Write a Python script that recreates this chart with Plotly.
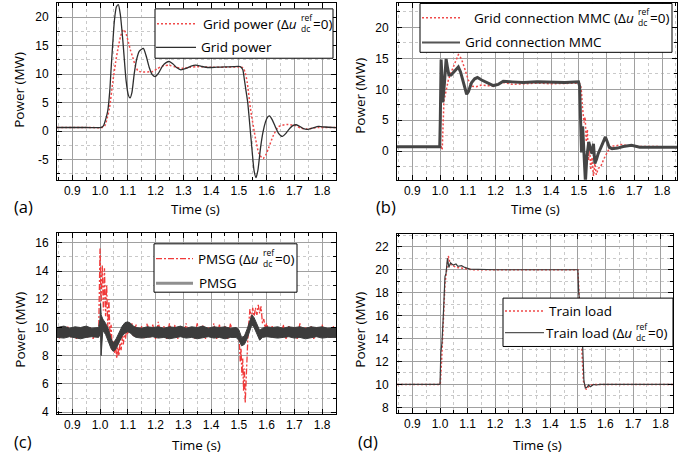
import plotly.graph_objects as go

W, H = 697, 466

# ---------------- (a) grid power ----------------
grid_t = [0.845, 0.95, 1.005, 1.012, 1.02, 1.028, 1.035, 1.04, 1.046, 1.052, 1.059, 1.066,
          1.073, 1.082, 1.094, 1.102, 1.108, 1.115, 1.123, 1.132, 1.141, 1.156, 1.166, 1.177,
          1.188, 1.199, 1.21, 1.225, 1.238, 1.249, 1.262, 1.277, 1.291, 1.31, 1.328, 1.345,
          1.365, 1.39, 1.42, 1.45, 1.48, 1.505, 1.514, 1.52, 1.526, 1.532, 1.54, 1.548, 1.555,
          1.562, 1.569, 1.578, 1.587, 1.596, 1.603, 1.61, 1.62, 1.631, 1.643, 1.657, 1.668,
          1.679, 1.693, 1.707, 1.72, 1.733, 1.748, 1.765, 1.787, 1.81, 1.85]
grid_p = [0.62, 0.62, 0.65, 0.9, 2.0, 3.6, 7.0, 11.0, 15.5, 19.5, 21.8, 22.2,
          20.5, 16.0, 8.8, 6.3, 5.8, 6.8, 10.0, 12.6, 14.0, 14.5, 13.2, 11.2,
          9.9, 9.55, 10.1, 11.4, 12.0, 12.2, 11.8, 11.1, 10.75, 11.0, 11.4, 11.55,
          11.35, 11.15, 11.2, 11.25, 11.3, 11.3, 10.8, 9.0, 7.0, 5.0, 0.8, -3.6, -7.0,
          -8.2, -6.8, -3.0, -0.2, 1.6, 2.4, 2.65, 2.0, 0.8, -0.4, -0.95, -0.5,
          0.2, 0.9, 1.1, 0.8, 0.4, 0.3, 0.5, 0.8, 0.7, 0.6]

grid0_t = [0.845, 0.95, 1.01, 1.018, 1.026, 1.034, 1.046, 1.056, 1.064, 1.074, 1.084, 1.092,
           1.1, 1.109, 1.118, 1.127, 1.136, 1.145, 1.19, 1.205, 1.225, 1.25, 1.275, 1.3,
           1.325, 1.35, 1.4, 1.45, 1.5, 1.515, 1.522, 1.53, 1.542, 1.56, 1.572, 1.587,
           1.597, 1.607, 1.625, 1.643, 1.673, 1.703, 1.725, 1.745, 1.765, 1.785, 1.85]
grid0_p = [0.62, 0.62, 0.65, 1.0, 2.3, 4.0, 8.6, 12.0, 14.3, 16.6, 17.8, 17.3,
           16.0, 14.3, 12.9, 11.5, 10.6, 10.4, 10.45, 10.9, 11.4, 11.55, 11.2, 11.0,
           11.2, 11.3, 11.2, 11.2, 11.25, 11.1, 10.4, 8.6, 3.9, -1.3, -3.9, -4.85,
           -4.2, -3.0, -0.7, 0.76, 1.16, 0.95, 0.5, 0.35, 0.5, 0.6, 0.6]

# ---------------- (b) grid connection MMC ----------------
mmc_t = [0.845, 0.999, 1.001, 1.004, 1.007, 1.01, 1.016, 1.022, 1.027, 1.032, 1.04, 1.05,
         1.058, 1.066, 1.074, 1.084, 1.091, 1.096, 1.102, 1.114, 1.125, 1.135, 1.15, 1.17,
         1.192, 1.21, 1.228, 1.26, 1.3, 1.35, 1.4, 1.45, 1.499, 1.503, 1.507, 1.51, 1.514,
         1.518, 1.524, 1.529, 1.532, 1.536, 1.542, 1.548, 1.553, 1.558, 1.564, 1.57, 1.58,
         1.589, 1.596, 1.603, 1.61, 1.62, 1.64, 1.66, 1.69, 1.72, 1.76, 1.854]
mmc_p = [0.7, 0.7, 5.0, 14.8, 12.0, 7.9, 11.0, 14.9, 13.5, 12.3, 12.3, 12.8,
         13.3, 13.6, 12.8, 11.1, 9.8, 9.2, 9.6, 11.1, 11.7, 11.9, 11.5, 11.1,
         10.6, 10.8, 11.3, 11.2, 11.1, 11.2, 11.15, 11.1, 11.2, 10.5, 4.4, -0.2, 4.0,
         1.0, -5.0, -1.0, 0.4, 1.5, 0.4, -0.4, 1.2, -2.0, -1.3, -0.4, 0.6,
         1.5, 2.3, 1.5, 0.6, 0.4, 0.5, 0.75, 0.95, 0.65, 0.65, 0.65]

mmc0_t = [0.845, 1.004, 1.008, 1.011, 1.014, 1.018, 1.024, 1.03, 1.038, 1.048, 1.056, 1.066,
          1.072, 1.078, 1.09, 1.102, 1.114, 1.13, 1.15, 1.17, 1.19, 1.21, 1.23, 1.26,
          1.3, 1.35, 1.4, 1.45, 1.5, 1.506, 1.51, 1.513, 1.519, 1.523, 1.527, 1.531,
          1.535, 1.539, 1.543, 1.548, 1.553, 1.558, 1.563, 1.57, 1.579, 1.591, 1.603,
          1.615, 1.633, 1.657, 1.68, 1.854]
mmc0_p = [0.7, 0.7, 0.2, 6.5, 8.0, 8.9, 10.4, 11.5, 12.5, 13.7, 14.6, 15.6,
          15.3, 14.8, 13.2, 11.5, 10.5, 10.4, 10.7, 10.6, 10.5, 10.9, 11.1, 10.8,
          10.9, 11.0, 10.9, 10.9, 11.0, 10.8, 9.5, 7.3, 4.6, 5.5, 1.5, 3.5,
          -1.5, 1.0, -3.0, -1.0, -4.0, -2.0, -3.8, -2.8, -2.5, -1.2, -0.2,
          0.85, 0.85, 1.1, 0.8, 0.7]

# ---------------- (c) PMSG ----------------
# envelope of the switching ripple band
pmsg_t = [0.845, 0.87, 0.89, 0.91, 0.93, 0.95, 0.97, 0.995,
          1.0, 1.002, 1.004, 1.007, 1.01,
          1.02, 1.03, 1.04, 1.048, 1.058, 1.07, 1.08, 1.09, 1.1, 1.11, 1.12, 1.13,
          1.15, 1.17, 1.19, 1.21, 1.23, 1.25, 1.27, 1.29, 1.31, 1.33, 1.35, 1.37, 1.39,
          1.41, 1.43, 1.45, 1.47, 1.49,
          1.5, 1.51, 1.52, 1.53, 1.54, 1.547, 1.555, 1.565, 1.575, 1.585,
          1.6, 1.62, 1.64, 1.66, 1.68, 1.7, 1.72, 1.74, 1.76, 1.78, 1.8, 1.82, 1.85]
pmsg_hi = [10.0, 10.1, 9.95, 10.05, 10.0, 10.1, 9.95, 10.0,
           10.6, 11.7, 10.9, 10.7, 10.6,
           10.3, 9.9, 9.2, 8.9, 9.2, 9.7, 10.1, 10.35, 10.4, 10.3, 10.1, 10.0,
           9.95, 10.05, 10.0, 10.05, 9.95, 10.05, 10.0, 10.1, 9.95, 10.05, 10.0, 10.1, 9.95,
           10.05, 10.0, 10.05, 9.95, 10.0,
           9.85, 9.3, 9.4, 9.9, 10.6, 10.9, 10.7, 10.2, 9.8, 9.95,
           10.05, 10.0, 10.05, 9.95, 10.05, 10.0, 10.05, 9.95, 10.05, 10.0, 10.05, 9.95, 10.0]
pmsg_lo = [9.3, 9.25, 9.35, 9.3, 9.2, 9.3, 9.35, 9.3,
           9.5, 9.6, 8.0, 9.5, 9.8,
           9.5, 9.0, 8.5, 8.3, 8.5, 9.0, 9.4, 9.6, 9.7, 9.6, 9.4, 9.3,
           9.25, 9.3, 9.35, 9.25, 9.3, 9.2, 9.3, 9.35, 9.25, 9.3, 9.2, 9.3, 9.35,
           9.25, 9.3, 9.2, 9.3, 9.3,
           9.1, 8.7, 8.8, 9.2, 9.9, 10.2, 10.0, 9.5, 9.1, 9.3,
           9.35, 9.3, 9.25, 9.3, 9.35, 9.25, 9.3, 9.2, 9.3, 9.35, 9.25, 9.3, 9.3]

pmsg0_t = [0.845, 0.855, 0.865, 0.875, 0.885, 0.895, 0.905, 0.915, 0.925, 0.935, 0.945,
           0.955, 0.965, 0.975, 0.985, 0.995,
           1.0, 1.004, 1.008, 1.012, 1.016, 1.02, 1.024, 1.028, 1.032, 1.036, 1.04, 1.044,
           1.048, 1.052, 1.056, 1.06, 1.064, 1.068, 1.072, 1.076, 1.08, 1.084, 1.088, 1.092,
           1.096, 1.1, 1.105, 1.11, 1.115, 1.12,
           1.13, 1.14, 1.15, 1.16, 1.17, 1.18, 1.19, 1.2, 1.21, 1.22, 1.23, 1.24, 1.25, 1.26,
           1.27, 1.28, 1.29, 1.3, 1.31, 1.32, 1.33, 1.34, 1.35, 1.36, 1.37, 1.38, 1.39, 1.4,
           1.41, 1.42, 1.43, 1.44, 1.45, 1.46, 1.47, 1.48, 1.49, 1.498,
           1.502, 1.505, 1.508, 1.511, 1.514, 1.517, 1.52, 1.523, 1.526, 1.529, 1.532, 1.535,
           1.54, 1.545, 1.55, 1.555, 1.56, 1.565, 1.57, 1.575, 1.58, 1.585, 1.59, 1.595, 1.6,
           1.61, 1.62, 1.63,
           1.64, 1.65, 1.66, 1.67, 1.68, 1.69, 1.7, 1.71, 1.72, 1.73, 1.74, 1.75, 1.76, 1.77,
           1.78, 1.79, 1.8, 1.81, 1.82, 1.83, 1.84, 1.85]
pmsg0_p = [9.6, 9.2, 9.9, 9.4, 10.1, 9.3, 9.8, 9.2, 10.0, 9.4, 9.9,
           9.3, 10.0, 9.2, 9.8, 9.5,
           15.6, 11.8, 14.4, 11.2, 14.2, 10.8, 13.0, 10.0, 12.0, 9.2, 10.2, 8.4,
           9.0, 8.2, 8.8, 7.8, 8.6, 8.0, 8.9, 8.4, 9.4, 8.8, 9.8, 9.2,
           10.0, 9.5, 10.4, 9.6, 10.3, 9.4,
           10.2, 9.3, 10.1, 9.2, 10.3, 9.3, 10.2, 9.2, 10.4, 9.3, 10.1, 9.2, 10.3, 9.4,
           10.2, 9.2, 10.0, 9.3, 10.3, 9.3, 10.1, 9.2, 10.3, 9.3, 10.2, 9.2, 10.0, 9.3,
           10.3, 9.2, 10.2, 9.4, 10.1, 9.2, 10.3, 9.3, 10.0, 9.3,
           9.0, 7.6, 8.5, 6.6, 7.8, 5.5, 7.1, 4.65, 6.6, 7.8, 9.0, 10.1,
           11.3, 10.6, 11.4, 10.8, 11.4, 10.9, 11.6, 11.0, 11.5, 10.3, 10.6, 9.9, 10.3,
           9.5, 10.1, 9.3,
           10.0, 9.3, 10.2, 9.2, 10.1, 9.3, 10.0, 9.2, 10.3, 9.3, 10.0, 9.4, 10.1, 9.2,
           10.0, 9.3, 10.2, 9.3, 10.0, 9.2, 10.1, 9.5]

# ---------------- (d) train load ----------------
load_t = [0.844, 1.001, 1.006, 1.012, 1.018, 1.024, 1.03, 1.036, 1.042, 1.06, 1.09, 1.12,
          1.5, 1.505, 1.51, 1.515, 1.52, 1.53, 1.538, 1.548, 1.56, 1.844]
load_p = [10.0, 10.0, 12.2, 15.1, 18.8, 20.0, 21.2, 20.6, 20.4, 20.2, 20.1, 20.0,
          20.0, 17.5, 15.4, 12.3, 10.3, 9.55, 9.8, 9.95, 10.0, 10.0]

load0_t = [0.844, 1.0, 1.003, 1.007, 1.012, 1.014, 1.018, 1.022, 1.027, 1.032, 1.038, 1.048,
           1.058, 1.065, 1.078, 1.09, 1.108, 1.2, 1.5, 1.503, 1.509, 1.513, 1.518, 1.522,
           1.527, 1.533, 1.539, 1.545, 1.557, 1.567, 1.58, 1.844]
load0_p = [10.0, 10.0, 12.8, 13.6, 16.0, 18.0, 19.4, 19.7, 21.0, 20.2, 20.6, 20.4,
           20.5, 20.3, 20.35, 20.2, 20.05, 20.0, 20.0, 18.0, 16.3, 15.8, 12.9, 10.3,
           9.7, 9.75, 9.95, 9.8, 10.0, 9.95, 10.0, 10.0]

RED = "#f04a4a"
DARK = "#3c3c3c"
DOTS = "2px,2px"


def px(x):
    return x / W


def py(y):
    return 1 - y / H


fig = go.Figure()

# (a)
fig.add_trace(go.Scatter(x=grid0_t, y=grid0_p, mode="lines", xaxis="x", yaxis="y",
                         line=dict(color=RED, width=1.5, dash=DOTS, shape="spline", smoothing=0.6)))
fig.add_trace(go.Scatter(x=grid_t, y=grid_p, mode="lines", xaxis="x", yaxis="y",
                         line=dict(color="#2e2e2e", width=1.3, shape="spline", smoothing=0.6)))
# (b)
fig.add_trace(go.Scatter(x=mmc0_t, y=mmc0_p, mode="lines", xaxis="x2", yaxis="y2",
                         line=dict(color=RED, width=1.5, dash=DOTS)))
fig.add_trace(go.Scatter(x=mmc_t, y=mmc_p, mode="lines", xaxis="x2", yaxis="y2",
                         line=dict(color="#454545", width=3)))
# (c)
fig.add_trace(go.Scatter(x=pmsg0_t, y=pmsg0_p, mode="lines", xaxis="x3", yaxis="y3",
                         line=dict(color="#f03a3a", width=1.3, dash="6px,2px,2px,2px")))
fig.add_trace(go.Scatter(x=pmsg_t, y=pmsg_lo, mode="lines", xaxis="x3", yaxis="y3",
                         line=dict(color=DARK, width=1)))
fig.add_trace(go.Scatter(x=pmsg_t, y=pmsg_hi, mode="lines", xaxis="x3", yaxis="y3",
                         fill="tonexty", fillcolor=DARK, line=dict(color=DARK, width=1)))
# (d)
fig.add_trace(go.Scatter(x=load_t, y=load_p, mode="lines", xaxis="x4", yaxis="y4",
                         line=dict(color=RED, width=1.5, dash=DOTS)))
fig.add_trace(go.Scatter(x=load0_t, y=load0_p, mode="lines", xaxis="x4", yaxis="y4",
                         line=dict(color=DARK, width=1.2)))

# panel frames (pixel boxes) and axis ranges
panels = {
    "": dict(box=(57, 3, 336, 182), xr=[0.845, 1.85], yr=[-8.54, 22.48], dy=5, mdy=2.5),
    "2": dict(box=(397, 3, 677, 182), xr=[0.845, 1.854], yr=[-4.6, 23.95], dy=5, mdy=2.5),
    "3": dict(box=(57, 236, 336, 419), xr=[0.845, 1.85], yr=[3.9, 16.7], dy=2, mdy=1),
    "4": dict(box=(397, 237, 673, 418), xr=[0.844, 1.845], yr=[7.54, 23.12], dy=2, mdy=1),
}
x_ticks = [0.9, 1.0, 1.1, 1.2, 1.3, 1.4, 1.5, 1.6, 1.7, 1.8]
x_labels = ["0.9", "1.0", "1.1", "1.2", "1.3", "1.4", "1.5", "1.6", "1.7", "1.8"]
y_ticks_a = [-5, 0, 5, 10, 15, 20]
y_labels_a = ["-5", "0", "5", "10", "15", "20"]

tickfont = dict(family="Arial, Liberation Sans", size=12, color="black")
common = dict(showline=True, linecolor="black", linewidth=1, mirror="allticks",
              ticks="inside", ticklen=5, tickcolor="black", tickwidth=1,
              showgrid=True, gridcolor="#a0a0a0", gridwidth=1, zeroline=False,
              tickfont=tickfont)

layout = {}
for key, p in panels.items():
    x0, y0, x1, y1 = p["box"]
    xa = dict(common, domain=[px(x0), px(x1)], range=p["xr"], anchor="y" + key,
              tickmode="array", tickvals=x_ticks, ticktext=x_labels,
              minor=dict(tickmode="linear", tick0=0.85, dtick=0.1, ticks="inside", ticklen=3,
                         tickcolor="black", showgrid=True, gridcolor="#c9c9c9",
                         griddash="dot", gridwidth=1))
    ya = dict(common, domain=[py(y1), py(y0)], range=p["yr"], anchor="x" + key,
              ticklabelstandoff=5,
              minor=dict(tickmode="linear", tick0=p["mdy"], dtick=p["dy"], ticks="inside",
                         ticklen=3, tickcolor="black", showgrid=True, gridcolor="#c9c9c9",
                         griddash="dot", gridwidth=1))
    if key == "":
        ya.update(tickmode="array", tickvals=y_ticks_a, ticktext=y_labels_a)
    else:
        ya.update(tickmode="linear", tick0=0, dtick=p["dy"])
    layout["xaxis" + key] = xa
    layout["yaxis" + key] = ya

TXT = "Open Sans, Noto Sans, sans-serif"
annotations = []
shapes = []


def text(x, y, s, size=13.5, xanchor="left", angle=0):
    annotations.append(dict(x=px(x), y=py(y), xref="paper", yref="paper", text=s,
                            showarrow=False, xanchor=xanchor, yanchor="middle",
                            textangle=angle, borderpad=0, align="left",
                            font=dict(family=TXT, size=size, color="black")))


# axis titles and panel letters
for (tx, ty, lx, ly, letter, px0, py0) in [
        (195, 212, 19, 91, "(a)", 13, 209),
        (535, 212, 360, 97, "(b)", 375, 209),
        (196, 451, 20, 334, "(c)", 13, 447),
        (537, 451, 360, 334, "(d)", 357, 447)]:
    text(tx, ty, "Time (s)", xanchor="center")
    text(lx, ly, "Power (MW)", xanchor="center", angle=-90)
    text(px0, py0, letter, size=16.5)


def legend(box, entries):
    x0, y0, x1, y1 = box
    shapes.append(dict(type="rect", xref="paper", yref="paper", x0=px(x0), x1=px(x1),
                       y0=py(y1), y1=py(y0), line=dict(color="black", width=1),
                       fillcolor="white", layer="above"))
    for e in entries:
        y = e["y"]
        shapes.append(dict(type="line", xref="paper", yref="paper", x0=px(e["l0"]),
                           x1=px(e["l1"]), y0=py(y), y1=py(y), layer="above",
                           line=dict(color=e["color"], width=e["width"], dash=e["dash"])))
        if "sub" in e:
            # text up to the symbol ends where the stacked indices begin
            sx = e["sub"]
            text(sx, y, e["label"], xanchor="right")
            text(sx + 1.5, y - 0.5, "ref<br>dc", size=8.5)
            text(sx + 14, y, "=0)")
        else:
            text(e["tx"], y, e["label"])


legend((155, 9, 333, 59), [
    dict(y=24, l0=157, l1=197, color=RED, width=1.5, dash=DOTS,
         label="Grid power (Δ<i>u</i>", sub=298),
    dict(y=48, l0=156, l1=196, color="#2e2e2e", width=1.3, dash="solid", tx=200,
         label="Grid power")])
legend((420, 3.5, 672, 53), [
    dict(y=18, l0=422, l1=460, color=RED, width=1.5, dash=DOTS,
         label="Grid connection MMC (Δ<i>u</i>", sub=635),
    dict(y=43, l0=422, l1=460, color="#555555", width=2, dash="solid", tx=464,
         label="Grid connection MMC")])
legend((154, 247, 297, 296), [
    dict(y=262, l0=156, l1=193, color="#f03a3a", width=1.3, dash="6px,2px,2px,2px",
         label="PMSG (Δ<i>u</i>", sub=260),
    dict(y=287, l0=156, l1=193, color="#8f8f8f", width=3, dash="solid", tx=198,
         label="PMSG")])
legend((503, 302, 673, 351), [
    dict(y=315, l0=505, l1=544, color=RED, width=1.5, dash=DOTS, tx=548,
         label="Train load"),
    dict(y=337, l0=505, l1=544, color="#555555", width=1.2, dash="solid",
         label="Train load (Δ<i>u</i>", sub=633)])

fig.update_layout(width=W, height=H, margin=dict(l=0, r=0, t=0, b=0),
                  paper_bgcolor="white", plot_bgcolor="white", showlegend=False,
                  annotations=annotations, shapes=shapes, **layout)

fig.write_html("out.html")
